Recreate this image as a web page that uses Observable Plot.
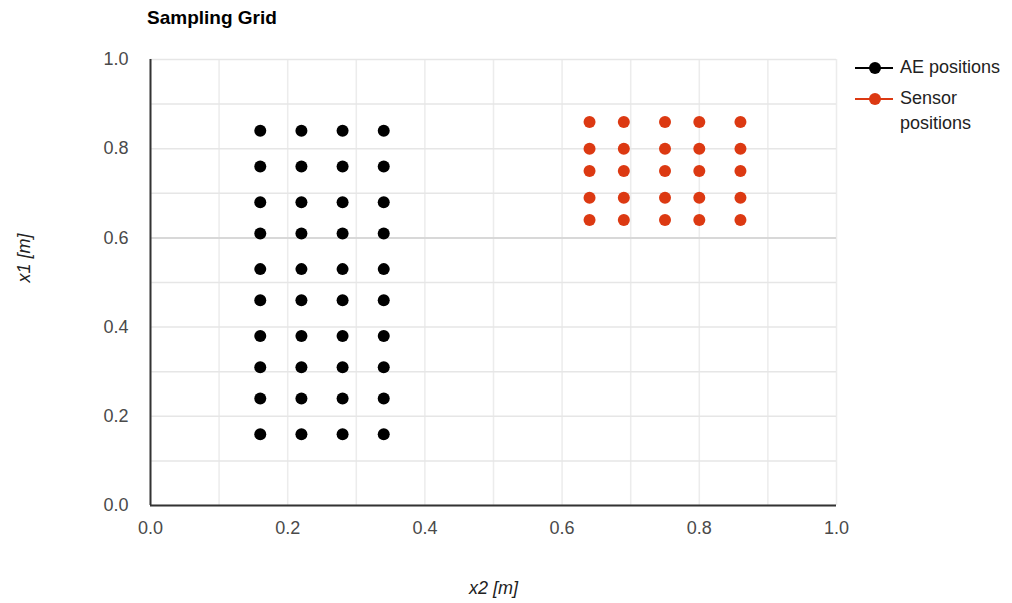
<!DOCTYPE html>
<html>
<head>
<meta charset="utf-8">
<script src="https://cdn.jsdelivr.net/npm/d3@7"></script>
<script src="https://cdn.jsdelivr.net/npm/@observablehq/plot@0.6"></script>
<style>
  body { margin: 0; background: #fff; font-family: "Liberation Sans", Arial, sans-serif; }
  #wrap { position: relative; width: 1012px; height: 603px; }
  #title { height: 36px; line-height: 36px; padding-left: 147px; font-weight: bold; font-size: 19px; color: #000; box-sizing: border-box; }
  #legend { position: absolute; left: 855px; top: 55px; width: 157px; font-size: 18px; color: #222; }
  .item { display: flex; align-items: flex-start; margin-bottom: 6px; }
  .sw { position: relative; width: 38px; height: 24px; flex: none; margin-right: 7px; }
  .sw .ln { position: absolute; left: 0; right: 0; top: 12px; height: 2px; }
  .sw .dt { position: absolute; left: 14px; top: 7px; width: 12px; height: 12px; border-radius: 50%; }
  .lab { line-height: 25px; }
</style>
</head>
<body>
<div id="wrap">
  <div id="title">Sampling Grid</div>
  <div id="chart"></div>
  <div id="legend"></div>
</div>
<script>
// Data
const titleText = "Sampling Grid";
const xLabel = "x2 [m]";
const yLabel = "x1 [m]";
const seriesNames = ["AE positions", "Sensor positions"];
const seriesColors = ["#000000", "#dc3912"];
const aeX = [0.16, 0.22, 0.28, 0.34];
const aeY = [0.84, 0.76, 0.68, 0.61, 0.53, 0.46, 0.38, 0.31, 0.24, 0.16];
const sensorX = [0.64, 0.69, 0.75, 0.80, 0.86];
const sensorY = [0.86, 0.80, 0.75, 0.69, 0.64];
const majorTicks = [0, 0.2, 0.4, 0.6, 0.8, 1.0];
const minorTicks = [0, 0.1, 0.2, 0.3, 0.4, 0.5, 0.6, 0.7, 0.8, 0.9, 1.0];

const ae = aeX.flatMap(x => aeY.map(y => ({x, y, s: seriesNames[0]})));
const sensors = sensorX.flatMap(x => sensorY.map(y => ({x, y, s: seriesNames[1]})));

const chart = Plot.plot({
  width: 1012,
  height: 567,
  marginLeft: 150,
  marginRight: 176,
  marginTop: 23,
  marginBottom: 98,
  style: { fontFamily: "'Liberation Sans', Arial, sans-serif", fontSize: "18px", color: "#4a4a4a", background: "#fff" },
  x: { domain: [0, 1] },
  y: { domain: [0, 1] },
  marks: [
    Plot.gridX(minorTicks, { stroke: "#ececec", strokeOpacity: 1, strokeWidth: 1.5 }),
    Plot.gridY(minorTicks, { stroke: "#e6e6e6", strokeOpacity: 1, strokeWidth: 1.5 }),
    Plot.gridY([0.6], { stroke: "#d2d2d2", strokeOpacity: 1, strokeWidth: 1.5 }),
    Plot.axisX(majorTicks, { tickSize: 0, tickPadding: 16, tickFormat: d3.format(".1f"), label: null }),
    Plot.axisY(majorTicks, { tickSize: 0, tickPadding: 22, tickFormat: d3.format(".1f"), label: null }),
    Plot.ruleX([0], { stroke: "#333", strokeWidth: 2 }),
    Plot.ruleY([0], { stroke: "#333", strokeWidth: 2 }),
    Plot.dot(ae, { x: "x", y: "y", r: 6, fill: seriesColors[0], stroke: null }),
    Plot.dot(sensors, { x: "x", y: "y", r: 6, fill: seriesColors[1], stroke: null }),
    Plot.text([xLabel], { frameAnchor: "bottom", dy: 88, fontStyle: "italic", fill: "#222", fontSize: 18 }),
    Plot.text([yLabel], { frameAnchor: "left", dx: -126, rotate: -90, fontStyle: "italic", fill: "#222", fontSize: 18 })
  ]
});
document.getElementById("chart").appendChild(chart);
document.getElementById("title").textContent = titleText;

const legend = document.getElementById("legend");
seriesNames.forEach((name, i) => {
  const item = document.createElement("div");
  item.className = "item";
  item.innerHTML = `<div class="sw"><div class="ln" style="background:${seriesColors[i]}"></div><div class="dt" style="background:${seriesColors[i]}"></div></div><div class="lab"></div>`;
  item.querySelector(".lab").textContent = name;
  legend.appendChild(item);
});
</script>
</body>
</html>
